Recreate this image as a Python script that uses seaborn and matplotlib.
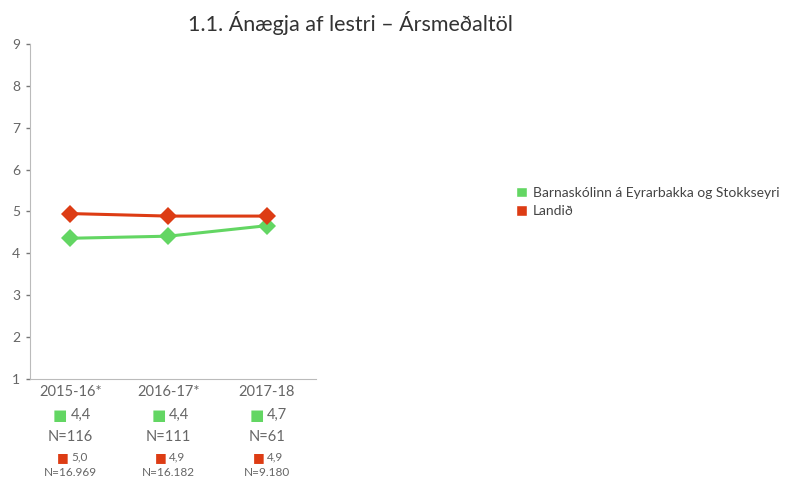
import matplotlib
matplotlib.use('Agg')
import matplotlib.pyplot as plt
import seaborn as sns
import pandas as pd
from matplotlib.patches import Patch

years = ['2015-16*', '2016-17*', '2017-18']
school_name = 'Barnaskólinn á Eyrarbakka og Stokkseyri'
country_name = 'Landið'
school_vals = [4.36, 4.41, 4.66]
country_vals = [4.95, 4.89, 4.89]
school_lbl = ['4,4', '4,4', '4,7']
school_n = ['N=116', 'N=111', 'N=61']
country_lbl = ['5,0', '4,9', '4,9']
country_n = ['N=16.969', 'N=16.182', 'N=9.180']

green = '#63d663'
red = '#dd3c14'
gray = '#666666'

sns.set_theme(style='white')
plt.rcParams['font.family'] = ['Lato', 'DejaVu Sans']

df = pd.DataFrame({
    'ar': list(range(3)) * 2,
    'gildi': school_vals + country_vals,
    'hopur': [school_name] * 3 + [country_name] * 3,
})

fig = plt.figure(figsize=(8, 4.79), dpi=100)
ax = fig.add_axes([0.0375, 0.209, 0.357, 0.699])
sns.lineplot(data=df, x='ar', y='gildi', hue='hopur', palette=[green, red],
             marker='D', markersize=9.5, markeredgewidth=0, linewidth=2.2,
             legend=False, ax=ax)

ax.set_xlim(-0.41, 2.5)
ax.set_ylim(1, 9)
ax.set_yticks(range(1, 10))
ax.set_xticks([])
ax.set_xlabel('')
ax.set_ylabel('')
ax.tick_params(axis='y', left=True, labelcolor=gray, color='#777777', labelsize=10,
               length=3, width=1, direction='out', pad=4)
for s in ['top', 'right']:
    ax.spines[s].set_visible(False)
for s in ['left', 'bottom']:
    ax.spines[s].set_color('#bbbbbb')
    ax.spines[s].set_linewidth(0.8)

trans = ax.get_xaxis_transform()


def put(txt, i, dx, dy, ha, size, color, fam=None):
    kw = {'family': fam} if fam else {}
    ax.annotate(txt, (i, 0), xytext=(dx, dy), textcoords='offset points',
                xycoords=trans, ha=ha, va='center', fontsize=size, color=color, **kw)


for i in range(3):
    put(years[i], i, 0, -9.5, 'center', 10.5, gray)
    put('■', i, -2, -26, 'right', 11, green, 'DejaVu Sans')
    put(school_lbl[i], i, 0.5, -26, 'left', 10.5, gray)
    put(school_n[i], i, 0, -42, 'center', 10.5, gray)
    put('■', i, -1.5, -56.5, 'right', 9, red, 'DejaVu Sans')
    put(country_lbl[i], i, 0.5, -56.5, 'left', 8.5, gray)
    put(country_n[i], i, 0, -67.5, 'center', 8.5, gray)

fig.text(0.4375, 0.953, '1.1. Ánægja af lestri – Ársmeðaltöl', ha='center', va='center',
         fontsize=15.5, color='#333333')

handles = [Patch(facecolor=green, label=school_name), Patch(facecolor=red, label=country_name)]
fig.legend(handles=handles, loc='upper left', bbox_to_anchor=(0.638, 0.622), frameon=False,
           fontsize=10, labelcolor='#444444', handlelength=0.8, handleheight=0.8,
           handletextpad=0.4, labelspacing=0.45, borderaxespad=0)

fig.savefig('out.png', dpi=100)
